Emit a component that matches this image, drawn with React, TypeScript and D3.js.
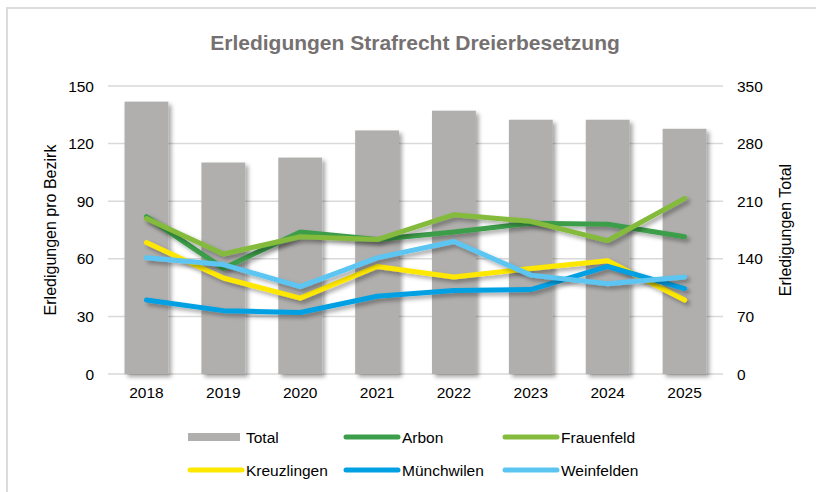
import React from "react";
import * as d3 from "d3";

const years = ["2018", "2019", "2020", "2021", "2022", "2023", "2024", "2025"];
const total = [331, 257, 263, 296, 320, 309, 309, 298];
const arbon = [82, 55, 74, 70, 74, 78.5, 78, 71.5];
const frauenfeld = [81, 62.5, 71.5, 70, 83, 79.5, 69.5, 91.5];
const kreuzlingen = [68.5, 50, 39.5, 56, 50.5, 55, 59, 38.5];
const muenchwilen = [38.5, 33, 32, 40.5, 43.5, 44, 56, 44.5];
const weinfelden = [60.5, 57, 45.5, 60.5, 69, 51.5, 47, 50.5];
const leftTicks = [0, 30, 60, 90, 120, 150];
const rightTicks = [0, 70, 140, 210, 280, 350];

const seriesNames = ["Arbon", "Frauenfeld", "Kreuzlingen", "Münchwilen", "Weinfelden"];
const seriesValues = [arbon, frauenfeld, kreuzlingen, muenchwilen, weinfelden];
const seriesColors = ["#3c9e4a", "#85bb3c", "#ffe800", "#00a0e3", "#5bc5f2"];
const barColor = "#b0afad";

export default function App() {
  const W = 816, H = 492;
  const left = 108, right = 723, top = 86, bottom = 374;
  const x = d3.scaleBand<string>().domain(years).range([left, right]).padding(0);
  const yL = d3.scaleLinear().domain([0, 150]).range([bottom, top]);
  const yR = d3.scaleLinear().domain([0, 350]).range([bottom, top]);
  const bw = x.bandwidth() * 0.57;
  const cx = (yr: string) => (x(yr) as number) + x.bandwidth() / 2;
  const line = d3.line<number>().x((_, i) => cx(years[i])).y((d) => yL(d));
  const font = "'Liberation Sans', Arial, sans-serif";

  const legendItems = [
    { name: "Total", kind: "bar", color: barColor, x: 188, y: 437 },
    { name: seriesNames[0], kind: "line", color: seriesColors[0], x: 344, y: 437 },
    { name: seriesNames[1], kind: "line", color: seriesColors[1], x: 503, y: 437 },
    { name: seriesNames[2], kind: "line", color: seriesColors[2], x: 188, y: 470 },
    { name: seriesNames[3], kind: "line", color: seriesColors[3], x: 344, y: 470 },
    { name: seriesNames[4], kind: "line", color: seriesColors[4], x: 503, y: 470 },
  ];

  return (
    <svg width={W} height={H} style={{ position: "absolute", left: 0, top: 0, background: "#fff" }} fontFamily={font}>
      <defs>
        <filter id="sh" x="-20%" y="-20%" width="140%" height="140%">
          <feDropShadow dx="3" dy="3" stdDeviation="2.2" floodColor="#000" floodOpacity="0.35" />
        </filter>
      </defs>
      <rect x={7} y={8} width={W + 20} height={H + 20} fill="#fff" stroke="#dcdcdc" strokeWidth={2} />
      <text x={415} y={50} textAnchor="middle" fontSize={21} fontWeight="bold" fill="#767171">
        Erledigungen Strafrecht Dreierbesetzung
      </text>
      {leftTicks.map((t) => (
        <line key={"g" + t} x1={left} x2={right} y1={yL(t)} y2={yL(t)} stroke="#d9d9d9" strokeWidth={1.5} />
      ))}
      {leftTicks.map((t) => (
        <text key={"l" + t} x={94} y={yL(t) + 5.5} textAnchor="end" fontSize={15.5} fill="#000">
          {t}
        </text>
      ))}
      {rightTicks.map((t) => (
        <text key={"r" + t} x={737} y={yR(t) + 5.5} textAnchor="start" fontSize={15.5} fill="#000">
          {t}
        </text>
      ))}
      {years.map((yr, i) => (
        <rect key={"b" + yr} x={cx(yr) - bw / 2} y={yR(total[i])} width={bw} height={bottom - yR(total[i])} fill={barColor} filter="url(#sh)" />
      ))}
      {years.map((yr) => (
        <text key={"x" + yr} x={cx(yr)} y={398} textAnchor="middle" fontSize={15.5} fill="#000">
          {yr}
        </text>
      ))}
      {seriesValues.map((vals, s) => (
        <path key={"s" + s} d={line(vals) || ""} fill="none" stroke={seriesColors[s]} strokeWidth={5} strokeLinecap="round" strokeLinejoin="round" filter="url(#sh)" />
      ))}
      <text transform={`translate(56,${(top + bottom) / 2}) rotate(-90)`} textAnchor="middle" fontSize={16} fill="#000">
        Erledigungen pro Bezirk
      </text>
      <text transform={`translate(791,${(top + bottom) / 2}) rotate(-90)`} textAnchor="middle" fontSize={16} fill="#000">
        Erledigungen Total
      </text>
      {legendItems.map((it) => (
        <g key={"lg" + it.name}>
          {it.kind === "bar" ? (
            <rect x={it.x} y={it.y - 4} width={52} height={8} fill={it.color} />
          ) : (
            <line x1={it.x + 2} x2={it.x + 54} y1={it.y} y2={it.y} stroke={it.color} strokeWidth={5} strokeLinecap="round" />
          )}
          <text x={it.x + 58} y={it.y + 5.5} fontSize={15.5} fill="#000">
            {it.name}
          </text>
        </g>
      ))}
    </svg>
  );
}
